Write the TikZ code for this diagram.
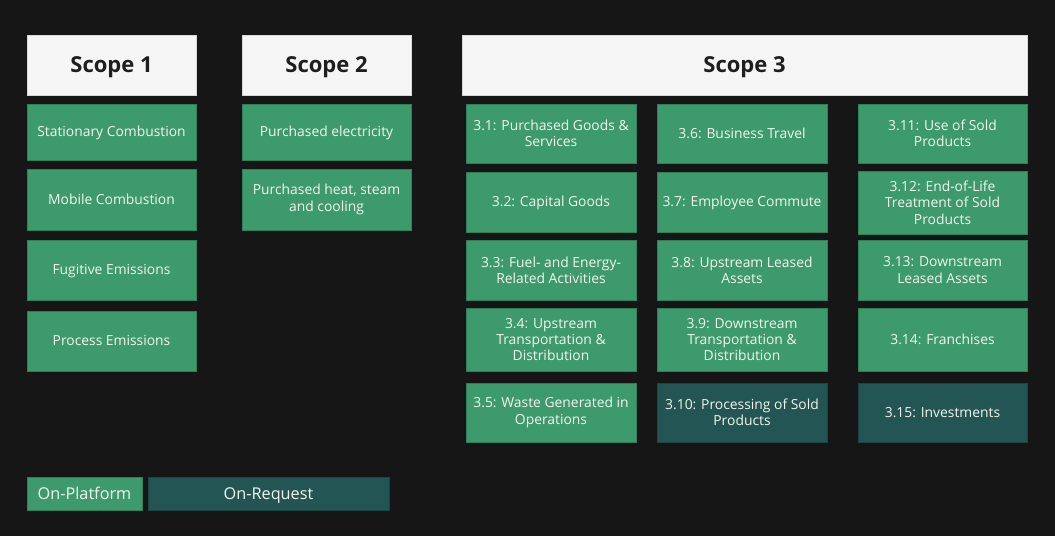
\documentclass[tikz,border=0pt]{standalone}
\usepackage{fontspec}
\setmainfont{Open Sans}
\definecolor{bgdark}{HTML}{161616}
\definecolor{platgreen}{HTML}{3D9A6C}
\definecolor{platedge}{HTML}{2F7F57}
\definecolor{reqteal}{HTML}{225553}
\definecolor{reqedge}{HTML}{1C4644}
\definecolor{headwhite}{HTML}{F5F5F5}
\definecolor{headedge}{HTML}{D8D8D8}
\definecolor{headtext}{HTML}{1E1E1E}
\definecolor{celltext}{HTML}{F4F4EE}
\tikzset{
  wh/.style 2 args={minimum width=#1*0.75pt, minimum height=#2*0.75pt},
  head/.style={draw=headedge, fill=headwhite, text=headtext, line width=0.75pt,
    inner sep=0pt, text height=11.8pt, text depth=0pt,
    font=\bfseries\fontsize{16.5}{19}\selectfont},
  cell/.style={draw=platedge, fill=platgreen, text=celltext, line width=0.75pt,
    inner sep=0pt, align=center, font=\fontsize{10.4}{12.2}\selectfont},
  oneline/.style={text height=7.4pt, text depth=0pt},
  req/.style={cell, draw=reqedge, fill=reqteal},
  legend/.style={inner sep=0pt, text=celltext, text height=8.7pt, text depth=0pt,
    font=\fontsize{12.2}{14}\selectfont}
}
\begin{document}
\begin{tikzpicture}[x=0.75pt, y=-0.75pt]
  \fill[bgdark] (0,0) rectangle (1055,536);
  \useasboundingbox (0,0) rectangle (1055,536);
  % headers
  \node[head, wh={169}{60}] (s1) at (111.5,65) {Scope 1};
  \node[head, wh={169}{60}] (s2) at (326.5,65) {Scope 2};
  \node[head, wh={565}{60}] (s3) at (744.5,65) {Scope 3};
  % scope 1
  \node[cell, oneline, wh={169}{56}] (stat) at (111.5,132) {Stationary Combustion};
  \node[cell, oneline, wh={169}{61}] (mob) at (111.5,199.5) {Mobile Combustion};
  \node[cell, oneline, wh={169}{60}] (fug) at (111.5,270) {Fugitive Emissions};
  \node[cell, oneline, wh={169}{60}] (proc) at (111.5,341) {Process Emissions};
  % scope 2
  \node[cell, oneline, wh={169}{56}] (elec) at (326.5,132) {Purchased electricity};
  \node[cell, wh={169}{61}] (heat) at (326.5,199.5) {Purchased heat, steam\\and cooling};
  % scope 3, first column
  \node[cell, wh={170}{59}] (c31) at (551,133.5) {3.1: Purchased Goods \&\\Services};
  \node[cell, oneline, wh={170}{60}] (c32) at (551,202) {3.2: Capital Goods};
  \node[cell, wh={170}{60}] (c33) at (551,270) {3.3: Fuel- and Energy-\\Related Activities};
  \node[cell, wh={170}{63}] (c34) at (551,339.5) {3.4: Upstream\\Transportation \&\\Distribution};
  \node[cell, wh={170}{59}] (c35) at (551,412.5) {3.5: Waste Generated in\\Operations};
  % scope 3, second column
  \node[cell, oneline, wh={170}{59}] (c36) at (742,133.5) {3.6: Business Travel};
  \node[cell, oneline, wh={170}{60}] (c37) at (742,202) {3.7: Employee Commute};
  \node[cell, wh={170}{60}] (c38) at (742,270) {3.8: Upstream Leased\\Assets};
  \node[cell, wh={170}{63}] (c39) at (742,339.5) {3.9: Downstream\\Transportation \&\\Distribution};
  \node[req, wh={170}{59}] (c310) at (742,412.5) {3.10: Processing of Sold\\Products};
  % scope 3, third column
  \node[cell, wh={169}{59}] (c311) at (942.5,133.5) {3.11: Use of Sold\\Products};
  \node[cell, wh={169}{63}] (c312) at (942.5,202.5) {3.12: End-of-Life\\Treatment of Sold\\Products};
  \node[cell, wh={169}{60}] (c313) at (942.5,270) {3.13: Downstream\\Leased Assets};
  \node[cell, oneline, wh={169}{63}] (c314) at (942.5,339.5) {3.14: Franchises};
  \node[req, oneline, wh={169}{59}] (c315) at (942.5,412.5) {3.15: Investments};
  % legend
  \node[cell, legend, wh={115}{33}] (onplat) at (84.5,493.5) {On-Platform};
  \node[req, legend, wh={241}{33}] (onreq) at (268.5,493.5) {On-Request};
\end{tikzpicture}
\end{document}
